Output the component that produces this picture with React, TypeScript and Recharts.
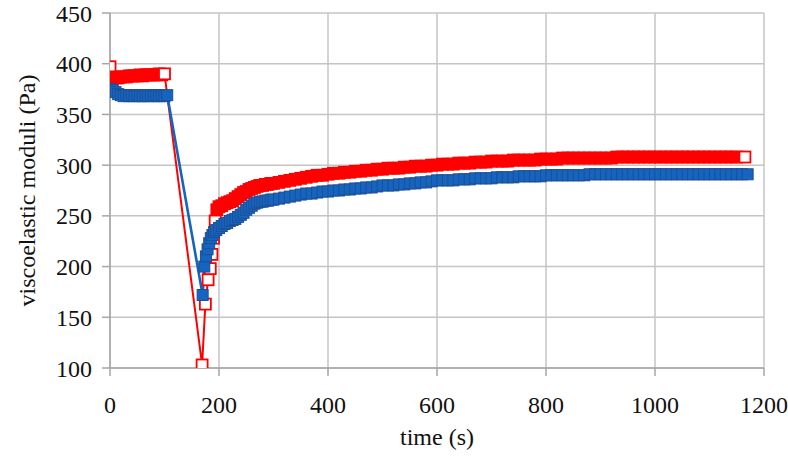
import React from 'react';
import { LineChart, Line, XAxis, YAxis, CartesianGrid, Label } from 'recharts';

// ---- data ----
const redTime = [
  0, 5, 10, 15, 20, 25, 30, 35, 40, 45, 50, 55, 60, 65, 70, 75, 80, 85, 90, 95, 100,
  169, 175, 180, 184, 187, 190, 193, 196,
  200, 205, 210, 215, 220, 225, 230, 235, 240, 245, 250, 255, 260, 265, 270, 275, 280, 285, 290, 295, 300,
  310, 320, 330, 340, 350, 360, 370, 380, 390, 400, 410, 420, 430, 440, 450, 460, 470, 480, 490, 500,
  510, 520, 530, 540, 550, 560, 570, 580, 590, 600, 610, 620, 630, 640, 650, 660, 670, 680, 690, 700,
  710, 720, 730, 740, 750, 760, 770, 780, 790, 800, 810, 820, 830, 840, 850, 860, 870, 880, 890, 900,
  910, 920, 930, 940, 950, 960, 970, 980, 990, 1000, 1010, 1020, 1030, 1040, 1050, 1060, 1070, 1080,
  1090, 1100, 1110, 1120, 1130, 1140, 1150, 1165,
];
const redValue = [
  397, 387, 386, 386, 387, 387, 387, 388, 388, 388, 388, 389, 388, 389, 389, 389, 389, 389, 390, 389, 390,
  103, 163, 187, 198, 212, 228, 245, 256,
  259, 260, 262, 263, 264, 265, 267, 269, 271, 273, 274, 276, 277, 278, 279, 280, 280, 281, 281, 282, 282,
  283, 284, 285, 286, 287, 288, 289, 290, 290, 291, 292, 292, 293, 293, 294, 294, 295, 295, 296, 296,
  297, 297, 297, 298, 298, 299, 299, 299, 300, 300, 301, 301, 301, 302, 302, 302, 303, 303, 303, 304,
  304, 304, 304, 305, 305, 305, 305, 305, 306, 306, 306, 306, 307, 307, 307, 307, 307, 307, 307, 307,
  307, 307, 308, 308, 308, 308, 308, 308, 308, 308, 308, 308, 308, 308, 308, 308, 308, 308,
  308, 308, 308, 308, 308, 308, 308, 308,
];

const blueTime = [
  0, 5, 10, 15, 20, 25, 30, 35, 40, 45, 50, 55, 60, 65, 70, 75, 80, 85, 90, 95, 100, 105,
  170, 173, 176, 179, 182, 185, 188, 191, 195,
  200, 205, 210, 215, 220, 225, 230, 235, 240, 245, 250, 255, 260, 265, 270, 275, 280, 285, 290, 295, 300,
  310, 320, 330, 340, 350, 360, 370, 380, 390, 400, 410, 420, 430, 440, 450, 460, 470, 480, 490, 500,
  510, 520, 530, 540, 550, 560, 570, 580, 590, 600, 610, 620, 630, 640, 650, 660, 670, 680, 690, 700,
  710, 720, 730, 740, 750, 760, 770, 780, 790, 800, 810, 820, 830, 840, 850, 860, 870, 880, 890, 900,
  910, 920, 930, 940, 950, 960, 970, 980, 990, 1000, 1010, 1020, 1030, 1040, 1050, 1060, 1070, 1080,
  1090, 1100, 1110, 1120, 1130, 1140, 1150, 1160, 1170,
];
const blueValue = [
  375, 374, 372, 370, 369, 368, 369, 368, 369, 368, 369, 368, 368, 369, 368, 369, 368, 369, 368, 369, 368, 369,
  172, 200, 210, 217, 223, 228, 231, 234, 236,
  238, 240, 242, 243, 245, 246, 247, 249, 251, 253, 256, 258, 260, 262, 263, 264, 264, 265, 265, 266, 266,
  267, 268, 269, 270, 271, 272, 272, 273, 274, 274, 275, 275, 276, 276, 277, 277, 278, 278, 279, 280,
  280, 280, 281, 281, 282, 282, 283, 283, 284, 285, 285, 285, 285, 286, 286, 286, 287, 287, 287, 287,
  288, 288, 288, 288, 289, 289, 289, 289, 289, 290, 290, 290, 290, 290, 290, 290, 290, 291, 291, 291,
  291, 291, 291, 291, 291, 291, 291, 291, 291, 291, 291, 291, 291, 291, 291, 291, 291, 291,
  291, 291, 291, 291, 291, 291, 291, 291, 291,
];

const xTicks = [0, 200, 400, 600, 800, 1000, 1200];
const yTicks = [100, 150, 200, 250, 300, 350, 400, 450];

const redData = redTime.map((t, i) => ({ t, v: redValue[i] }));
const blueData = blueTime.map((t, i) => ({ t, v: blueValue[i] }));

// a marker shows its white interior when it is isolated or ends a run
const redOpen = redTime.map((t, i) =>
  i === 0 ||
  i === redTime.length - 1 ||
  redTime[i + 1] - t > 20 ||
  Math.abs(redValue[i + 1] - redValue[i]) > 8
);

const RED = '#FF0000';
const BLUE = '#1565C0';
const BLUE_EDGE = '#1D4F94';
const FONT = 'Liberation Serif, Times New Roman, Times, serif';
const S = 11;

const RedDot = (props: any) => {
  const { cx, cy, index } = props;
  if (cx == null || cy == null) return <g key={`r${index}`} />;
  const open = redOpen[index];
  return (
    <rect
      key={`r${index}`}
      x={cx - S / 2}
      y={cy - S / 2}
      width={S}
      height={S}
      fill={open ? '#FFFFFF' : RED}
      stroke={RED}
      strokeWidth={1.8}
    />
  );
};

const BlueDot = (props: any) => {
  const { cx, cy, index } = props;
  if (cx == null || cy == null) return <g key={`b${index}`} />;
  return (
    <rect
      key={`b${index}`}
      x={cx - S / 2}
      y={cy - S / 2}
      width={S}
      height={S}
      fill={BLUE}
      stroke={BLUE_EDGE}
      strokeWidth={1}
    />
  );
};

const YTitle = (props: any) => {
  const vb = props.viewBox || { x: 30, y: 13, width: 80, height: 355 };
  const x = vb.x + 5;
  const y = vb.y + vb.height / 2;
  return (
    <text
      x={x}
      y={y}
      transform={`rotate(-90, ${x}, ${y})`}
      textAnchor="middle"
      fontFamily={FONT}
      fontSize={24}
      fill="#111"
    >
      viscoelastic moduli (Pa)
    </text>
  );
};

const XTitle = (props: any) => {
  const vb = props.viewBox || { x: 110, y: 368, width: 654, height: 80 };
  const x = vb.x + vb.width / 2;
  const y = vb.y + 77;
  return (
    <text x={x} y={y} textAnchor="middle" fontFamily={FONT} fontSize={24} fill="#111">
      time (s)
    </text>
  );
};

export default function App() {
  return (
    <div style={{ position: 'absolute', left: 0, top: 0, width: 788, height: 457, background: '#fff' }}>
      <LineChart width={788} height={457} margin={{ top: 13, right: 24, bottom: 9, left: 30 }}>
        <CartesianGrid stroke="#C4C4C4" strokeWidth={1.5} />
        <XAxis
          dataKey="t"
          type="number"
          domain={[0, 1200]}
          ticks={xTicks}
          height={80}
          tickSize={8}
          tickMargin={20}
          axisLine={{ stroke: '#A6A6A6', strokeWidth: 1.5 }}
          tickLine={{ stroke: '#A6A6A6', strokeWidth: 1.5 }}
          tick={{ fontFamily: FONT, fontSize: 24, fill: '#111' }}
          allowDataOverflow
        >
          <Label content={<XTitle />} />
        </XAxis>
        <YAxis
          dataKey="v"
          type="number"
          domain={[100, 450]}
          ticks={yTicks}
          width={80}
          tickSize={8}
          tickMargin={10}
          axisLine={{ stroke: '#A6A6A6', strokeWidth: 1.5 }}
          tickLine={{ stroke: '#A6A6A6', strokeWidth: 1.5 }}
          tick={{ fontFamily: FONT, fontSize: 24, fill: '#111' }}
          allowDataOverflow
        >
          <Label content={<YTitle />} />
        </YAxis>
        <Line
          data={redData}
          dataKey="v"
          stroke={RED}
          strokeWidth={2}
          dot={RedDot}
          activeDot={false}
          isAnimationActive={false}
        />
        <Line
          data={blueData}
          dataKey="v"
          stroke={BLUE}
          strokeWidth={2.6}
          dot={BlueDot}
          activeDot={false}
          isAnimationActive={false}
        />
      </LineChart>
    </div>
  );
}
